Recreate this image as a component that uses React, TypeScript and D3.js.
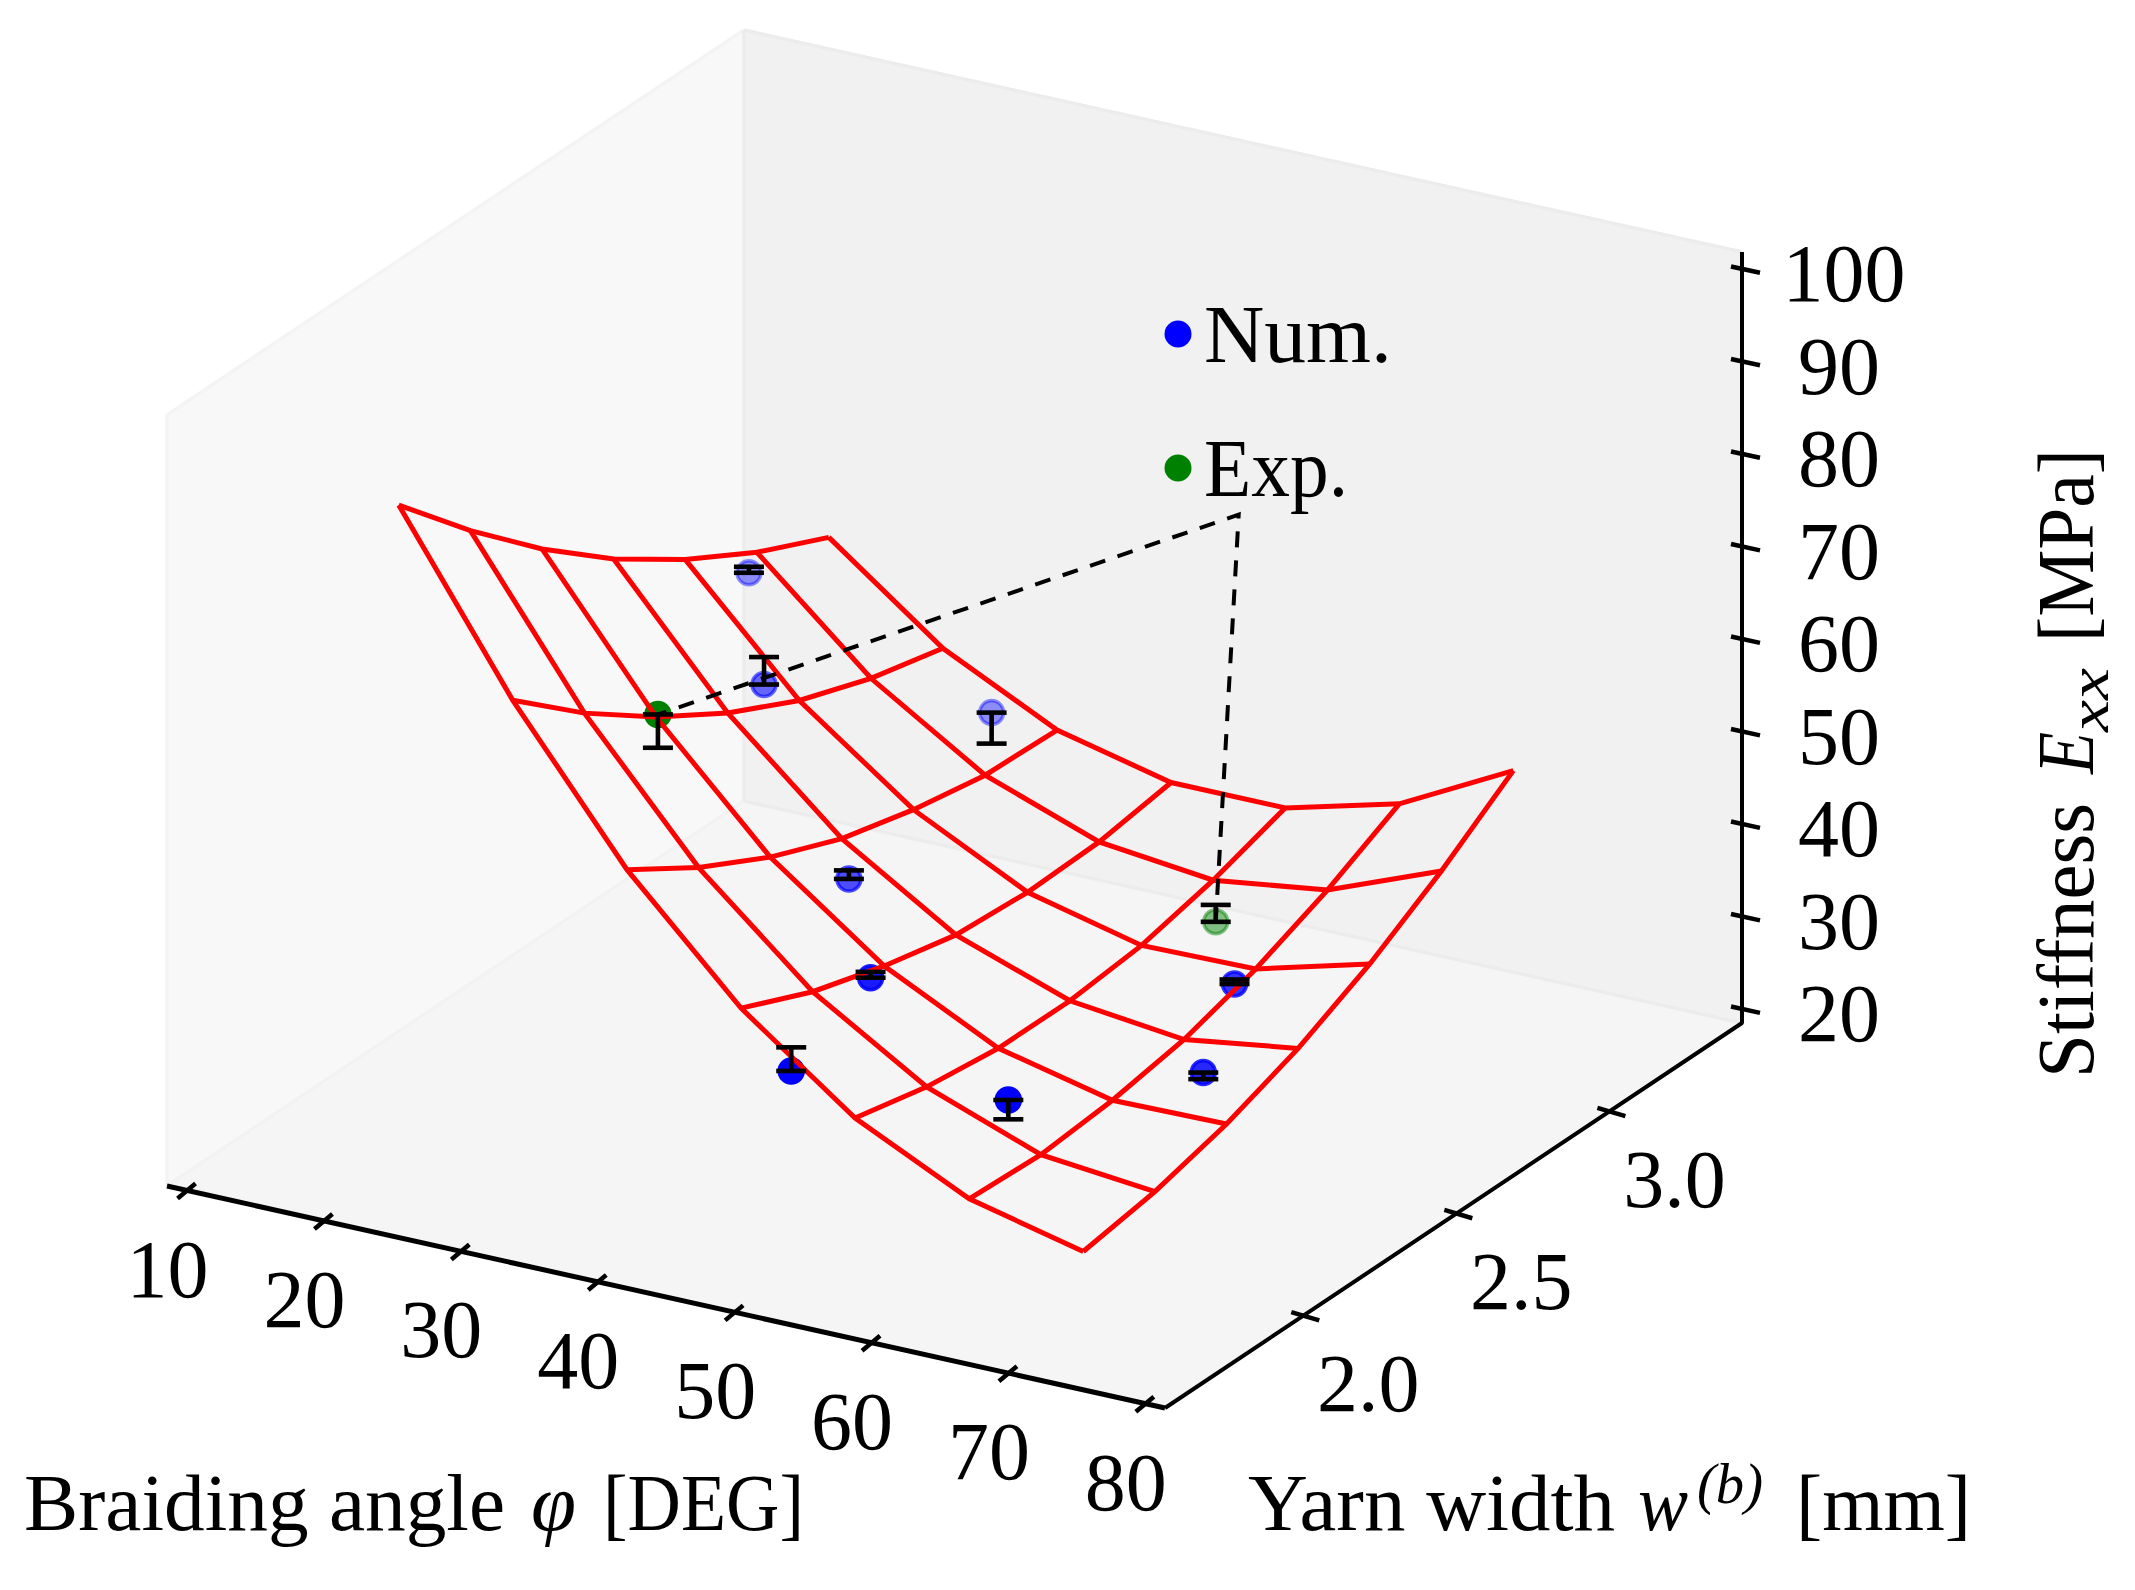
import { useEffect, useRef } from "react";
import * as d3 from "d3";

// mesh grid of the fitted surface
const gridPhi = [24.2, 32.53, 40.87, 49.2, 57.53, 65.87, 74.2];
const gridW = [1.6, 1.834, 2.068, 2.302, 2.536, 2.77, 3.005];
const gridZ = [
  [96.05, 88.13, 80.98, 74.72, 69.5, 65.12, 61.54],
  [77.69, 71.14, 65.55, 60.82, 57.01, 54.24, 52.3],
  [62.13, 57.19, 53.15, 49.98, 47.95, 46.51, 46.2],
  [49.9, 46.51, 44.13, 42.32, 41.76, 42.04, 43.27],
  [40.77, 38.97, 37.97, 37.94, 38.76, 40.64, 43.27],
  [34.78, 34.38, 35.1, 36.5, 38.96, 42.32, 46.46],
  [31.82, 33.13, 35.27, 38.28, 42.24, 47.13, 52.79],
];

// numerical results, err = signed distance to the other end of the bar
const numPhi = [29.7, 35.7, 43.0, 43.8, 51.8, 68.3, 50.9, 62.8, 68.3];
const numW = [2.498, 2.279, 2.696, 2.194, 1.907, 2.358, 1.688, 1.865, 2.256];
const numZ = [70.72, 65.45, 55.61, 48.98, 47.27, 42.06, 41.73, 38.6, 34.74];
const numErr = [0.65, 2.97, -3.35, 0.92, 0.63, 0.49, 2.55, -2.09, -0.71];

// experiments
const expPhi = [43.6, 57.0];
const expW = [1.579, 2.802];
const expZ = [80.27, 35.26];
const expErr = [-3.6, 1.83];

// bend of the leader from the "Exp." label
const leaderPhi = [43.6, 54.25, 57.0];
const leaderW = [1.579, 3.0, 2.802];
const leaderZ = [80.27, 74.0, 35.26];

const phiTicks = [10, 20, 30, 40, 50, 60, 70, 80];
const wTicks = [2.0, 2.5, 3.0];
const zTicks = [20, 30, 40, 50, 60, 70, 80, 90, 100];

const phiLim: [number, number] = [8.5, 81.4];
const wLim: [number, number] = [1.545, 3.43];
const zLim: [number, number] = [18.49, 101.84];

const FONT = "'Liberation Serif', serif";

export default function App() {
  const svgRef = useRef<SVGSVGElement | null>(null);

  useEffect(() => {
    if (!svgRef.current) return;
    const svg = d3.select(svgRef.current);
    svg.selectAll("*").remove();

    const originX = 167;
    const originY = 1186;

    const phiX = d3.scaleLinear().domain(phiLim).range([0, 998]);
    const phiY = d3.scaleLinear().domain(phiLim).range([0, 222]);
    const wX = d3.scaleLinear().domain(wLim).range([0, 577]);
    const wY = d3.scaleLinear().domain(wLim).range([0, -385]);
    const zY = d3.scaleLinear().domain(zLim).range([0, -771]);

    const project = (phi: number, w: number, z: number): [number, number] => [
      originX + phiX(phi) + wX(w),
      originY + phiY(phi) + wY(w) + zY(z),
    ];
    const line = d3.line<[number, number]>();

    const [p0, p1] = phiLim;
    const [w0, w1] = wLim;
    const [z0, z1] = zLim;

    // panes
    const panes: [[number, number][], string][] = [
      [[project(p0, w0, z0), project(p0, w0, z1), project(p0, w1, z1), project(p0, w1, z0)], "#f8f8f8"],
      [[project(p0, w1, z0), project(p0, w1, z1), project(p1, w1, z1), project(p1, w1, z0)], "#f1f1f1"],
      [[project(p0, w0, z0), project(p1, w0, z0), project(p1, w1, z0), project(p0, w1, z0)], "#f5f5f5"],
    ];
    panes.forEach(([pts, color]) => {
      svg.append("path").attr("d", line(pts) + "Z").attr("fill", color);
    });

    const paneEdges: [[number, number][], string][] = [
      [[project(p0, w0, z0), project(p0, w0, z1), project(p0, w1, z1)], "#f4f4f4"],
      [[project(p0, w0, z0), project(p0, w1, z0)], "#f2f2f2"],
      [[project(p0, w1, z1), project(p1, w1, z1)], "#ececec"],
      [[project(p0, w1, z0), project(p1, w1, z0)], "#ececec"],
      [[project(p0, w1, z0), project(p0, w1, z1)], "#ececec"],
    ];
    paneEdges.forEach(([pts, color]) => {
      svg.append("path").attr("d", line(pts)).attr("fill", "none").attr("stroke", color).attr("stroke-width", 3.5);
    });

    // axes
    const axes = svg.append("g").attr("stroke", "#000").attr("stroke-width", 4.5).attr("fill", "none");
    axes.append("path").attr("stroke-width", 5).attr("d", line([project(p0, w0, z0), project(p1, w0, z0)]));
    axes.append("path").attr("stroke-linejoin", "bevel").attr("stroke-width", 4).attr("d", line([
      project(p1, w0, z0),
      project(p1, w1, z0),
      project(p1, w1, z1),
    ]));

    const labels = svg.append("g").attr("font-family", FONT).attr("font-size", 82).attr("fill", "#000");

    phiTicks.forEach((t) => {
      const [x, y] = project(t, w0, z0);
      axes.append("line").attr("x1", x - 10).attr("y1", y + 8).attr("x2", x + 8).attr("y2", y - 7);
      labels.append("text").attr("x", x - 20).attr("y", y + 106).attr("text-anchor", "middle").text(t);
    });
    wTicks.forEach((t) => {
      const [x, y] = project(p1, t, z0);
      axes.append("line").attr("x1", x - 13).attr("y1", y - 3).attr("x2", x + 15).attr("y2", y + 5.3);
      labels.append("text").attr("x", x + 64).attr("y", y + 96).attr("text-anchor", "middle").text(t.toFixed(1));
    });
    zTicks.forEach((t) => {
      const [x, y] = project(p1, w1, t);
      axes.append("line").attr("x1", x - 11).attr("y1", y - 2.5).attr("x2", x + 18).attr("y2", y + 3.8);
      labels.append("text")
        .attr("x", x + 97 + (String(t).length - 2) * 5)
        .attr("y", y + 32)
        .attr("text-anchor", "middle")
        .text(t);
    });

    // scatter, shaded by depth the way mplot3d does it
    const shade = d3.scaleLinear().domain([-130, 100]).range([0.42, 1]).clamp(true);
    const drawPoints = (ps: number[], ws: number[], zs: number[], color: string) => {
      ps.forEach((phi, i) => {
        const [x, y] = project(phi, ws[i], zs[i]);
        const a = shade(phiY(phi) + wY(ws[i]));
        svg.append("circle")
          .attr("cx", x).attr("cy", y).attr("r", 12)
          .attr("fill", color).attr("fill-opacity", a)
          .attr("stroke", color).attr("stroke-opacity", a).attr("stroke-width", 3.5);
      });
    };
    drawPoints(numPhi, numW, numZ, "#0000ff");
    drawPoints(expPhi, expW, expZ, "#008000");

    // wireframe
    const mesh = svg.append("g").attr("fill", "none").attr("stroke", "#ff0000").attr("stroke-width", 5);
    gridPhi.forEach((phi, i) => {
      mesh.append("path").attr("d", line(gridW.map((w, j) => project(phi, w, gridZ[i][j]))));
    });
    gridW.forEach((w, j) => {
      mesh.append("path").attr("d", line(gridPhi.map((phi, i) => project(phi, w, gridZ[i][j]))));
    });

    // error bars
    const bars = svg.append("g").attr("stroke", "#000").attr("stroke-width", 4.6);
    const drawBars = (ps: number[], ws: number[], zs: number[], errs: number[]) => {
      ps.forEach((phi, i) => {
        const [x, y] = project(phi, ws[i], zs[i]);
        const [, y2] = project(phi, ws[i], zs[i] + errs[i]);
        bars.append("line").attr("x1", x).attr("x2", x).attr("y1", y).attr("y2", y2);
        [y, y2].forEach((cy) => {
          bars.append("line").attr("x1", x - 15).attr("x2", x + 15).attr("y1", cy).attr("y2", cy);
        });
      });
    };
    drawBars(numPhi, numW, numZ, numErr);
    drawBars(expPhi, expW, expZ, expErr);

    // leader
    svg.append("path")
      .attr("d", line(leaderPhi.map((phi, i) => project(phi, leaderW[i], leaderZ[i]))))
      .attr("fill", "none")
      .attr("stroke", "#000")
      .attr("stroke-width", 4)
      .attr("stroke-dasharray", "16 13")
      .attr("stroke-dashoffset", 7);

    // text squeezed to the width the original type set takes
    const seg = (
      parent: d3.Selection<any, unknown, null, undefined>,
      str: string,
      x: number,
      y: number,
      len: number,
      size: number,
      italic = false,
    ) => {
      parent.append("text")
        .attr("x", x)
        .attr("y", y)
        .attr("font-size", size)
        .attr("font-style", italic ? "italic" : "normal")
        .attr("textLength", len)
        .attr("lengthAdjust", "spacingAndGlyphs")
        .text(str);
    };

    // legend
    const legend = [
      { name: "Num.", color: "#0000ff", y: 334, len: 188 },
      { name: "Exp.", color: "#008000", y: 468, len: 144 },
    ];
    legend.forEach((d) => {
      svg.append("circle").attr("cx", 1178).attr("cy", d.y).attr("r", 13.5).attr("fill", d.color);
      seg(labels, d.name, 1204, d.y + 28, d.len, 82);
    });

    // axis titles
    const titleY = 1530;
    seg(labels, "Braiding angle", 24, titleY, 481, 80);
    seg(labels, "φ", 531, titleY, 45, 80, true);
    seg(labels, "[DEG]", 603, titleY, 201, 80);

    seg(labels, "Yarn width", 1248, titleY, 367, 80);
    seg(labels, "w", 1638, titleY, 50, 80, true);
    seg(labels, "(b)", 1697, titleY - 27, 66, 58, true);
    seg(labels, "[mm]", 1796, titleY, 175, 80);

    const zTitle = labels.append("g").attr("transform", "translate(2093,1078) rotate(-90)");
    seg(zTitle, "Stiffness", 0, 0, 275, 80);
    seg(zTitle, "E", 304, 0, 42, 80, true);
    seg(zTitle, "xx", 346, 15, 64, 58, true);
    seg(zTitle, "[MPa]", 436, 0, 193, 80);
  }, []);

  return (
    <svg
      ref={svgRef}
      width={2135}
      height={1590}
      style={{ position: "absolute", left: 0, top: 0, background: "#fff" }}
    />
  );
}
